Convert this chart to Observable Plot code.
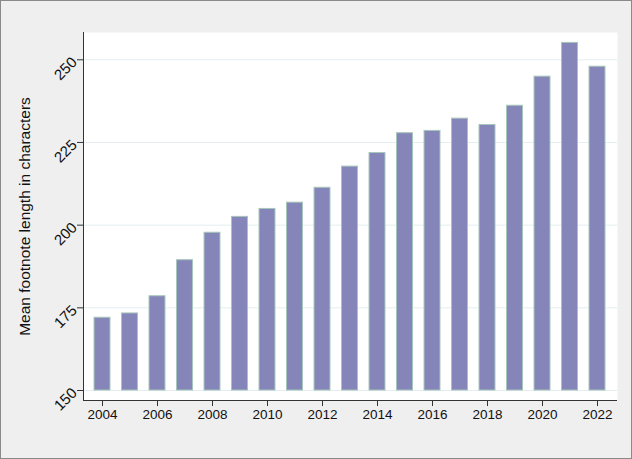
<!DOCTYPE html>
<html>
<head>
<meta charset="utf-8">
<script src="https://cdn.jsdelivr.net/npm/d3@7"></script>
<script src="https://cdn.jsdelivr.net/npm/@observablehq/plot@0.6"></script>
<style>
  html, body { margin: 0; padding: 0; background: #efefef; }
  svg { display: block; outline: 1px solid #8a8a8a; outline-offset: -1px; }
</style>
</head>
<body>
<div id="chart"></div>
<script>
const years = [2004,2005,2006,2007,2008,2009,2010,2011,2012,2013,2014,2015,2016,2017,2018,2019,2020,2021,2022];
const meanLength = [172.0,173.3,178.5,189.4,197.7,202.5,204.9,206.8,211.3,217.7,221.8,227.8,228.5,232.2,230.3,236.1,244.9,255.1,247.9];
const yTicks = [150,175,200,225,250];
const xTicks = [2004,2006,2008,2010,2012,2014,2016,2018,2020,2022];
const yLabel = "Mean footnote length in characters";

const data = years.map((y, i) => ({year: y, value: meanLength[i]}));
const xDomain = [2003.309, 2022.727];
const yDomain = [146.98, 258.25];
const halfBar = 0.29;

const chart = Plot.plot({
  width: 632,
  height: 459,
  marginLeft: 83,
  marginRight: 15,
  marginTop: 32,
  marginBottom: 59,
  style: {background: "#efefef", fontFamily: "'Liberation Sans', Arial, Helvetica, sans-serif", color: "#111"},
  x: {domain: xDomain},
  y: {domain: yDomain},
  marks: [
    Plot.frame({fill: "white", stroke: null}),
    Plot.gridY(yTicks, {stroke: "#e4eef0", strokeOpacity: 1, strokeWidth: 1}),
    Plot.rectY(data, {
      x1: d => d.year - halfBar,
      x2: d => d.year + halfBar,
      y1: 150,
      y2: "value",
      fill: "#8585b9",
      stroke: "#a6c6ba",
      strokeWidth: 1
    }),
    Plot.axisY(yTicks, {
      tickSize: 6,
      tickPadding: 3,
      tickRotate: -45,
      stroke: "#333",
      fontSize: 15,
      fill: "#111",
      label: null
    }),
    Plot.axisY([], {
      tickSize: 0,
      fontSize: 15.5,
      fill: "#111",
      label: yLabel,
      labelAnchor: "center",
      labelArrow: "none",
      labelOffset: 65
    }),
    Plot.axisX(xTicks, {
      tickSize: 6,
      tickPadding: 3,
      tickFormat: d => String(d),
      stroke: "#333",
      fontSize: 13.5,
      fill: "#111",
      label: null
    }),
    Plot.ruleX([xDomain[0]], {stroke: "#333", strokeWidth: 1}),
    Plot.ruleY([yDomain[0]], {stroke: "#333", strokeWidth: 1})
  ]
});

document.getElementById("chart").appendChild(chart);
</script>
</body>
</html>
